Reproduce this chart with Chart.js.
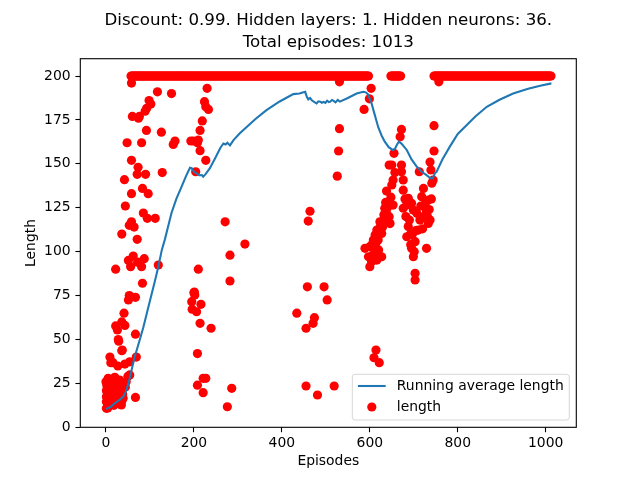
<!DOCTYPE html>
<html>
<head>
<meta charset="utf-8">
<script src="https://cdn.jsdelivr.net/npm/chart.js@4.4.1/dist/chart.umd.min.js"></script>
<style>
html,body{margin:0;padding:0;background:#fff;}
#c{display:block;}
</style>
</head>
<body>
<canvas id="c" width="640" height="480"></canvas>
<script>
const titleLines = ["Discount: 0.99. Hidden layers: 1. Hidden neurons: 36.", "Total episodes: 1013"];
const xLabel = "Episodes";
const yLabel = "Length";
const seriesNames = ["Running average length", "length"];
const xTicks = [0, 200, 400, 600, 800, 1000];
const yTicks = [0, 25, 50, 75, 100, 125, 150, 175, 200];
const xRange = [-58.4, 1069.6];
const yRange = [0, 209.85];

// episodes whose length reached the 200 cap (read along the top band)
const capLength = 200;
const capEpisodes = [
57,59,61,63,65,67,69,71,73,75,77,79,81,83,85,87,89,91,93,95,97,99,
101,103,105,107,109,111,113,115,117,119,121,123,125,127,129,131,133,135,137,139,141,143,145,147,149,151,153,155,157,159,161,163,165,167,169,171,173,175,177,179,181,183,185,187,189,191,193,195,197,199,
201,203,205,207,209,211,213,215,217,219,221,223,225,227,229,231,233,235,237,239,241,243,245,247,249,251,253,255,257,259,261,263,265,267,269,271,273,275,277,279,281,283,285,287,289,291,293,295,297,299,
301,303,305,307,309,311,313,315,317,319,321,323,325,327,329,331,333,335,337,339,341,343,345,347,349,351,353,355,357,359,361,363,365,367,369,371,373,375,377,379,381,383,385,387,389,391,393,395,397,399,
401,403,405,407,409,411,413,415,417,419,421,423,425,427,429,431,433,435,437,439,441,443,445,447,449,451,453,455,457,459,461,463,465,467,469,471,473,475,477,479,481,483,485,487,489,491,493,495,497,499,
501,503,505,507,509,511,513,515,517,519,521,523,525,527,529,531,533,535,537,539,541,543,545,547,549,551,553,555,557,559,561,563,565,567,569,571,573,575,577,579,581,583,585,587,589,591,593,595,597,
648,650,652,654,656,658,660,662,664,666,668,670,
746,748,750,752,754,756,758,760,762,764,766,768,770,772,774,776,778,780,782,784,786,788,790,792,794,796,798,
800,802,804,806,808,810,812,814,816,818,820,822,824,826,828,830,832,834,836,838,840,842,844,846,848,850,852,854,856,858,860,862,864,866,868,870,872,874,876,878,880,882,884,886,888,890,892,894,896,898,
900,902,904,906,908,910,912,914,916,918,920,922,924,926,928,930,932,934,936,938,940,942,944,946,948,950,952,954,956,958,960,962,964,966,968,970,972,974,976,978,980,982,984,986,988,990,992,994,996,998,
1000,1002,1004,1006,1008,1010,1012];

// episodes below the cap: [episode, length]
const offCapPoints = [
[0,26],[1,21],[1,17.4],[1,14.6],[1,10.8],[2,24],[3,20],[4,11],[5,27.9],[5,11.7],[6,19],[7,16],[8,23.1],[9,40],[10,19],[11,36.8],[12,14.6],[13,25],[14,21],[15,26],[16,18.4],[16,36.8],[18,12.5],[19,22],[20,28.5],[20,16],[22,90],[22,57.7],[23,23.1],[23,13.7],[24,27],[25,20],[26,55.4],[27,17.4],[27,34.9],[28,50],[28,15],[29,49],[30,24],[31,26.9],[32,22],[33,19],[35,21.2],[35,12.7],[36,43.6],[36,60],[36,110],[36,15],[37,44],[38,19],[39,16.5],[40,25],[41,65],[42,25],[42,141],[43,36],[43,58],[44,126],[44,23],[46,26],[48,162],[50,29],[51,95],[51,72.5],[53,75],[53,115],[54,29.8],[54,37.3],[56,91.4],[58,117],[58,133],[58,152],[58,196],[60,177],[62,97.5],[64,114],[67,74],[67,53],[67,17],[69,40],[71,107],[71,144],[72,94],[73,148],[74,176],[76,177],[81,91.4],[81,162],[83,82],[83,136],[85,122],[87,96],[89,180],[90,144],[92,169],[92.5,181.6],[94,119],[96,133],[98,186],[102,184],[112,119],[117,191],[119,92.4],[126,168],[128,145],[149,190],[153,161],[157,163],
[193,163],[195,71.5],[196,67.2],[199,163],[200,76.6],[201,77],[202,75.3],[204,145.5],[206,65.8],[208,162],[208,42],[208,24],[210,163.5],[210,90],[214,169],[214,157.5],[214,59.2],[216,70],[219,174.4],[221,27.9],[221,19.7],[224,185.4],[227,182.5],[227,152],[227,27.9],[230,193],[233,181],[239,56.4],[271,117],[276,11.7],[282,98],[282,83.3],[286,22.2],[316,104.3],
[434,65],[455,56.4],[455,23.5],[458,80],[460,117.4],[464,123],[471,59.2],[474,62.4],[481,18.4],[496,80],[503,72.5],[519,23.5],[526,143],[529,157.3],[531,170],[531,196.7],
[587,181],[599,187],[603,193],[669,165.4],[672,169.6],[746,171.7],[746,157.3],[757,196.7],
[609.5,39.6],[614,44],[621.5,36.8],
[589,101.9],[597,97.1],[600,91.4],[600,102.8],[604,103.8],[604,94.3],[606,98],[608,106.6],[610,104],[612,109.5],[612,99],[614,105],[616,112.3],[616,95.2],[618,110],[619,106.6],[620,101],[622,113],[623,117],[625,115],[627,110.4],[627,97.1],[629,114],[631,118],[632,121],[634,124.7],[636,128],[638,121.8],[638,134.5],[640,125],[642,127.5],[644,119.9],[644,149.3],[646,116],[648,131],[650,138],[650,149.3],[653,126.5],[653,140.8],[655,156],[657,145],
[672,149.3],[672,145.5],[676,140.8],[676,135],[676,124.7],[680,130],[682,120],[684,126.5],[684,108.5],[687.5,130.4],[687.5,114.3],[690,118],[691,109.5],[693,104],[695,127.5],[695,101.9],[697,110],[699,123.7],[699,97.1],[701,100],[703,105.7],[703,87.7],[703,83.9],[705,112],[707,121.8],[710,112.3],[712.5,145.5],[714,118],[716,126],[718,131.3],[720,113],[722,136],[722,119.9],[725,125.6],[727,128],[729,122.7],[729,101.9],[731,120],[733,129.4],[733,116.1],[735,124],[737,151],[737,118],[739,146.5],[740,130],[741,139],[744,140.8]
];

// running average length: [episode, value]
const runningAvg = [
[0,10.5],[10,11.5],[20,13.7],[30,15.5],[39,17.4],[45,20],[51,25],[55,29],[60,34.5],[65,40],[70,44],[77,50],[85,57],[95,67],[104,76],[112,84],[119,91.4],[127,101],[134,107],[141,114],[149,122],[160,130],[172,137],[182,143],[191,147.8],[195,147.5],[200,145.5],[206,144.6],[212,143.5],[218,143.6],[221,142.7],[226,144],[236,147.4],[250,154],[260,159],[267,161.6],[272,161],[276,162],[282,160.5],[290,163.5],[305,167.5],[320,171],[340,175.5],[365,180.6],[395,185.5],[426,189.7],[440,190],[453,191],[457,188],[460,186.7],[464,187.5],[468,186.2],[475,185],[479,184.4],[483,185.6],[487,185.4],[491,184.8],[495,185.3],[499,184.7],[503,186],[507,185.2],[510,185.4],[514,186.3],[517,186],[522,185],[527,186.4],[532,185.4],[550,187.5],[570,190],[585,191],[591,190.7],[596,189.5],[604,184.4],[610,179],[619,171],[627,166],[634,162.6],[643,159.5],[652,157.9],[657,158.5],[662,161],[666,162.6],[672,161.5],[684,157.9],[695,152.5],[707,148.3],[718,145.5],[729,143.6],[738,141.8],[743,141.7],[748,144.6],[752,145.5],[765,152.5],[782,159.8],[800,167],[820,172],[840,177],[866,182.5],[895,186.5],[926,190],[960,192.7],[990,194.6],[1013,195.8]
];

const FONT = "'DejaVu Sans', sans-serif";
const LINE_BLUE = '#1f77b4';
const DOT_RED = '#ff0000';

const scatterData = capEpisodes.map(e => ({x: e, y: capLength}))
  .concat(offCapPoints.map(p => ({x: p[0], y: p[1]})));
const avgData = runningAvg.map(p => ({x: p[0], y: p[1]}));

const framePlugin = {
  id: 'frameAndLegend',
  afterDraw(chart) {
    const {ctx, chartArea: ca} = chart;
    ctx.save();
    ctx.strokeStyle = '#000';
    ctx.lineWidth = 1.1;
    ctx.strokeRect(ca.left, ca.top, ca.right - ca.left, ca.bottom - ca.top);

    // legend inside lower right
    ctx.font = '13.9px ' + FONT;
    const tw = Math.max(ctx.measureText(seriesNames[0]).width, ctx.measureText(seriesNames[1]).width);
    const w = 5.6 + 27.8 + 11.1 + tw + 5.6;
    const h = 45.7;
    const right = ca.right - 7;
    const bottom = ca.bottom - 7.3;
    const left = right - w;
    const top = bottom - h;
    const r = 2.8;
    ctx.beginPath();
    ctx.moveTo(left + r, top);
    ctx.lineTo(right - r, top);
    ctx.arcTo(right, top, right, top + r, r);
    ctx.lineTo(right, bottom - r);
    ctx.arcTo(right, bottom, right - r, bottom, r);
    ctx.lineTo(left + r, bottom);
    ctx.arcTo(left, bottom, left, bottom - r, r);
    ctx.lineTo(left, top + r);
    ctx.arcTo(left, top, left + r, top, r);
    ctx.closePath();
    ctx.fillStyle = 'rgba(255,255,255,0.8)';
    ctx.fill();
    ctx.strokeStyle = '#d6d6d6';
    ctx.lineWidth = 1;
    ctx.stroke();

    const hx0 = left + 5.6, hx1 = hx0 + 27.8;
    const row1 = top + 11.7, row2 = top + 32.7;
    ctx.strokeStyle = LINE_BLUE;
    ctx.lineWidth = 2.08;
    ctx.beginPath();
    ctx.moveTo(hx0, row1);
    ctx.lineTo(hx1, row1);
    ctx.stroke();
    ctx.fillStyle = DOT_RED;
    ctx.beginPath();
    ctx.arc((hx0 + hx1) / 2, row2, 4.6, 0, Math.PI * 2);
    ctx.fill();

    ctx.fillStyle = '#000';
    ctx.textAlign = 'left';
    ctx.textBaseline = 'middle';
    ctx.fillText(seriesNames[0], hx1 + 11.1, row1);
    ctx.fillText(seriesNames[1], hx1 + 11.1, row2);
    ctx.restore();
  }
};

const tickFont = {family: FONT, size: 13.9};

new Chart(document.getElementById('c'), {
  type: 'scatter',
  data: {
    datasets: [
      {
        label: seriesNames[0],
        data: avgData,
        showLine: true,
        borderColor: LINE_BLUE,
        backgroundColor: LINE_BLUE,
        borderWidth: 2.08,
        pointRadius: 0,
        tension: 0,
        order: 0
      },
      {
        label: seriesNames[1],
        data: scatterData,
        showLine: false,
        backgroundColor: DOT_RED,
        borderColor: DOT_RED,
        borderWidth: 0,
        pointRadius: 4.6,
        pointHoverRadius: 4.6,
        order: 1
      }
    ]
  },
  options: {
    responsive: false,
    animation: false,
    devicePixelRatio: 1,
    layout: {padding: {left: 0, right: 63.7, top: 0, bottom: 0}},
    plugins: {
      legend: {display: false},
      tooltip: {enabled: false},
      title: {
        display: true,
        text: titleLines,
        fullSize: false,
        color: '#000',
        font: {family: FONT, size: 16.67, weight: 'normal', lineHeight: 1.32},
        padding: {top: 10, bottom: 4.7}
      }
    },
    scales: {
      x: {
        type: 'linear',
        min: xRange[0],
        max: xRange[1],
        afterBuildTicks: s => { s.ticks = xTicks.map(v => ({value: v})); },
        afterFit: s => { s.height = 52.7; },
        ticks: {color: '#000', font: tickFont, padding: 3, maxRotation: 0, autoSkip: false, callback: v => String(v)},
        grid: {display: true, drawOnChartArea: false, drawTicks: true, tickLength: 4.9, tickWidth: 1.1, tickColor: '#000'},
        border: {display: false},
        title: {display: true, text: xLabel, color: '#000', font: {family: FONT, size: 13.9}, padding: {top: 0, bottom: 10}}
      },
      y: {
        type: 'linear',
        min: yRange[0],
        max: yRange[1],
        afterBuildTicks: s => { s.ticks = yTicks.map(v => ({value: v})); },
        afterFit: s => { s.width = 80.3; },
        ticks: {color: '#000', font: tickFont, padding: 4.8, autoSkip: false, callback: v => String(v)},
        grid: {display: true, drawOnChartArea: false, drawTicks: true, tickLength: 4.9, tickWidth: 1.1, tickColor: '#000'},
        border: {display: false},
        title: {display: true, text: yLabel, color: '#000', font: {family: FONT, size: 13.9}, padding: {top: 23.4, bottom: 0}}
      }
    }
  },
  plugins: [framePlugin]
});
</script>
</body>
</html>
